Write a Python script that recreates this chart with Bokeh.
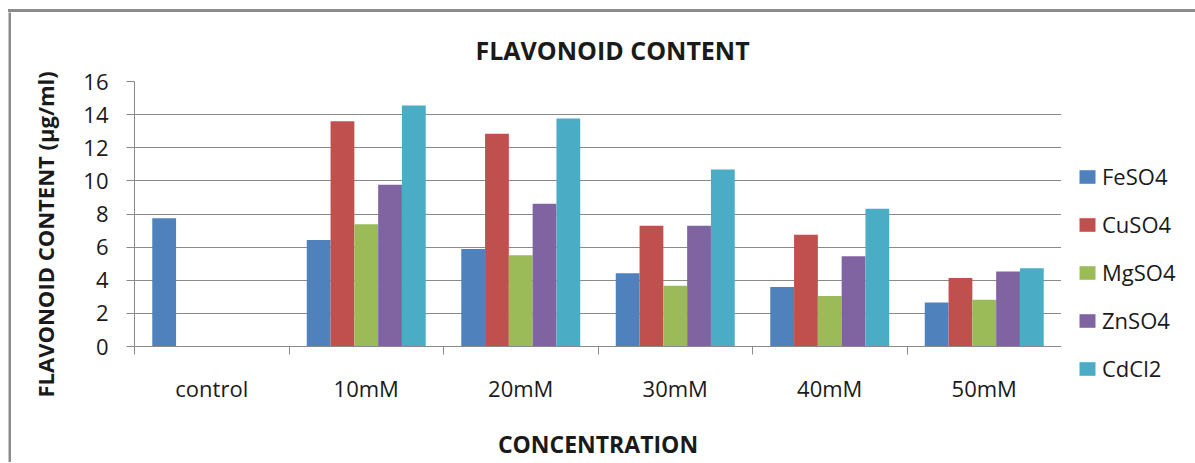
from bokeh.plotting import figure
from bokeh.layouts import row, column
from bokeh.models import (ColumnDataSource, FixedTicker, Range1d, Legend, LegendItem,
                          Title, Spacer)
from bokeh.embed import file_html
from bokeh.resources import INLINE

# ---- data ----
categories = ["control", "10mM", "20mM", "30mM", "40mM", "50mM"]
series = ["FeSO4", "CuSO4", "MgSO4", "ZnSO4", "CdCl2"]
feso4 = [7.75, 6.43, 5.89, 4.43, 3.59, 2.66]
cuso4 = [None, 13.6, 12.85, 7.29, 6.75, 4.13]
mgso4 = [None, 7.38, 5.51, 3.67, 3.05, 2.83]
znso4 = [None, 9.76, 8.62, 7.29, 5.45, 4.53]
cdcl2 = [None, 14.55, 13.77, 10.68, 8.32, 4.73]
y_ticks = [0, 2, 4, 6, 8, 10, 12, 14, 16]
colors = ["#4F81BD", "#C0504D", "#9BBB59", "#8064A2", "#4BACC6"]

values = [feso4, cuso4, mgso4, znso4, cdcl2]

GRID = "#8a8a8a"
EDGE = "#8c8c8c"
TXT = "#1a1a1a"
FONT = "Open Sans"
H = 450

# ---------------- main chart ----------------
p = figure(width=1050, height=H,
           x_range=Range1d(0, len(categories)), y_range=Range1d(0, 16),
           output_backend="svg", toolbar_location=None,
           min_border_left=117, min_border_right=0,
           min_border_top=69, min_border_bottom=115,
           title="FLAVONOID CONTENT")
p.outline_line_color = None
p.background_fill_color = "white"
p.border_fill_color = "white"

p.title.align = "left"
p.title.offset = 341
p.title.standoff = 29
p.title.text_font = FONT
p.title.text_font_size = "25px"
p.title.text_font_style = "bold"
p.title.text_color = TXT

bar_w = 0.154
for j, (name, vals, col) in enumerate(zip(series, values, colors)):
    xs, tops = [], []
    for i, v in enumerate(vals):
        if v is None:
            continue
        xs.append(i + 0.5 + (j - 2) * bar_w)
        tops.append(v)
    src = ColumnDataSource(dict(x=xs, top=tops))
    p.vbar(x="x", top="top", width=bar_w, bottom=0, source=src,
           fill_color=col, line_color=None)

# x axis: labels at category centres, ticks at category boundaries
xa = p.xaxis[0]
xa.ticker = FixedTicker(ticks=[i + 0.5 for i in range(len(categories))],
                        minor_ticks=list(range(len(categories) + 1)))
xa.major_label_overrides = {i + 0.5: c for i, c in enumerate(categories)}
xa.major_tick_out = 0
xa.major_tick_in = 0
xa.major_tick_line_color = None
xa.minor_tick_out = 8
xa.minor_tick_in = 0
xa.minor_tick_line_color = GRID
xa.axis_line_color = GRID
xa.major_label_standoff = 18
xa.major_label_text_font = FONT
xa.major_label_text_font_size = "22px"
xa.major_label_text_color = TXT
xa.axis_label = "CONCENTRATION"
xa.axis_label_standoff = 22
xa.axis_label_text_font = FONT
xa.axis_label_text_font_size = "23px"
xa.axis_label_text_font_style = "bold"
xa.axis_label_text_color = TXT

# y axis
ya = p.yaxis[0]
ya.ticker = FixedTicker(ticks=y_ticks, minor_ticks=[])
ya.major_tick_out = 8
ya.major_tick_in = 0
ya.major_tick_line_color = GRID
ya.axis_line_color = GRID
ya.major_label_standoff = 18
ya.major_label_text_font = FONT
ya.major_label_text_font_size = "22px"
ya.major_label_text_color = TXT

p.xgrid.grid_line_color = None
p.ygrid.ticker = FixedTicker(ticks=y_ticks)
p.ygrid.grid_line_color = GRID
p.ygrid.grid_line_width = 1

ytitle = Title(text="FLAVONOID CONTENT (\u03bcg/ml)", align="left", offset=-51,
               vertical_align="top", standoff=37,
               text_font=FONT, text_font_size="22px", text_font_style="bold",
               text_color=TXT)
p.add_layout(ytitle, "left")


# ---------------- helpers: bare panels (no axes, frame = whole canvas) ----------------
def bare(w, h, fill="white"):
    f = figure(width=w, height=h, output_backend="svg", toolbar_location=None,
               x_axis_location=None, y_axis_location=None,
               min_border_left=0, min_border_right=0,
               min_border_top=0, min_border_bottom=0,
               x_range=Range1d(0, 1), y_range=Range1d(0, 1))
    f.outline_line_color = None
    f.background_fill_color = fill
    f.border_fill_color = fill
    f.grid.visible = False
    if "frame_align" in f.properties():
        f.frame_align = False
    return f


# ---------------- legend panel ----------------
lg = bare(133, H)
items = []
for name, col in zip(series, colors):
    # zero-size proxy bar: only its legend swatch is visible
    r = lg.vbar(x=[0.0], top=[0.0], bottom=0.0, width=0.0,
                fill_color=col, line_color=None)
    items.append(LegendItem(label=name, renderers=[r]))
legend = Legend(items=items, location=(16, 79), orientation="vertical",
                glyph_width=20, glyph_height=17, label_standoff=5, spacing=18,
                padding=0, margin=0, border_line_color=None,
                background_fill_alpha=0,
                label_text_font=FONT, label_text_font_size="22px",
                label_text_color=TXT)
lg.add_layout(legend)

# ---------------- chart-area frame edges ----------------
top_edge = Spacer(width=1187, height=3, styles={"background-color": EDGE})
left_edge = bare(3, H, EDGE)

layout = column(
    Spacer(width=1, height=9),
    row(Spacer(width=8, height=3), top_edge),
    row(Spacer(width=8, height=H), left_edge, p, lg),
)

open("out.html", "w").write(file_html(layout, INLINE))
